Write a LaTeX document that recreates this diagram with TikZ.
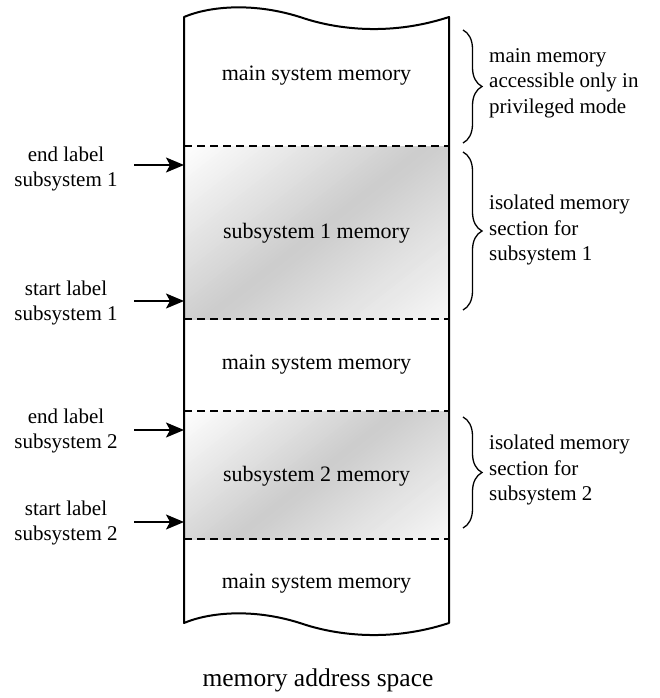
\documentclass[tikz,border=0pt]{standalone}
\usepackage{fontspec}
\setmainfont{Liberation Serif}
\usetikzlibrary{arrows.meta,decorations.pathreplacing}

\tikzset{
  sidetext/.style={font=\fontsize{21}{25.5}\selectfont, inner sep=0pt, align=center},
  notetext/.style={font=\fontsize{21}{25.5}\selectfont, inner sep=0pt, align=left, anchor=west},
  celltext/.style={font=\fontsize{22}{26}\selectfont, inner sep=0pt},
  divider/.style={line width=1.6pt, dash pattern=on 8pt off 5pt},
  pointer/.style={line width=1.6pt, -{Stealth[length=18pt,width=15pt,inset=4pt]}},
  bracket/.style={line width=1.3pt, decorate, decoration={brace, amplitude=19pt}},
}

% diagonal grey gradient: white at top-left, grey in the middle, pale at bottom-right
% #1 = top-left corner, #2 = bottom-right corner, #3 = width, #4 = height
\newcommand\graderegion[4]{%
  \begin{scope}
    \clip #1 rectangle #2;
    \pgfmathsetmacro\gradstep{(#3*cos(52)+#4*sin(52))/90}
    \begin{scope}[shift={#1}, rotate=-52]
      \foreach \i in {0,...,89} {
        \pgfmathsetmacro\gs{(\i+0.5)/90}
        \pgfmathsetmacro\gv{ifthenelse(\gs<0.5, 40*\gs, 20-34*(\gs-0.5))}
        \pgfmathsetmacro\ga{\gradstep*\i}
        \pgfmathsetmacro\gb{\ga+\gradstep+0.8}
        \fill[black!\gv] (\ga,-600) rectangle (\gb,900);
      }
    \end{scope}
  \end{scope}}

\begin{document}
\begin{tikzpicture}[x=1pt, y=-1pt]
\useasboundingbox (0,0) rectangle (660,698);

% shaded subsystem regions
\graderegion{(184,146)}{(449,319)}{265}{173}
\graderegion{(184,411)}{(449,539)}{265}{128}

% dividers between regions
\draw[divider] (184,146) -- (449,146);
\draw[divider] (184,319) -- (449,319);
\draw[divider] (184,411) -- (449,411);
\draw[divider] (184,539) -- (449,539);

% address-space column with torn (wavy) ends
\draw[line width=2pt, line join=round]
  (184,17) .. controls (210,6) and (255,2) .. (303,18)
           .. controls (330,27) and (385,38) .. (449,17)
  -- (449,623)
           .. controls (385,644) and (330,633) .. (303,624)
           .. controls (255,608) and (210,612) .. (184,623)
  -- cycle;

% region captions
\node[celltext] (m1) at (316.5,76) {main system memory};
\node[celltext] (s1) at (316.5,233) {subsystem 1 memory};
\node[celltext] (m2) at (316.5,365) {main system memory};
\node[celltext] (s2) at (316.5,476) {subsystem 2 memory};
\node[celltext] (m3) at (316.5,584) {main system memory};

% boundary labels
\node[sidetext] (e1) at (66,169) {end label\\subsystem 1};
\node[sidetext] (b1) at (66,303) {start label\\subsystem 1};
\node[sidetext] (e2) at (66,431) {end label\\subsystem 2};
\node[sidetext] (b2) at (66,523) {start label\\subsystem 2};

\coordinate (e1s) at (134,165); \coordinate (e1t) at (184,165);
\coordinate (b1s) at (134,301); \coordinate (b1t) at (184,301);
\coordinate (e2s) at (134,430); \coordinate (e2t) at (184,430);
\coordinate (b2s) at (134,522); \coordinate (b2t) at (184,522);
\draw[pointer] (e1s) -- (e1t);
\draw[pointer] (b1s) -- (b1t);
\draw[pointer] (e2s) -- (e2t);
\draw[pointer] (b2s) -- (b2t);

% braces with notes
\coordinate (k1a) at (463,30);  \coordinate (k1b) at (463,143);
\coordinate (k2a) at (463,152); \coordinate (k2b) at (463,310);
\coordinate (k3a) at (463,417); \coordinate (k3b) at (463,528);
\draw[bracket] (k1a) -- (k1b);
\draw[bracket] (k2a) -- (k2b);
\draw[bracket] (k3a) -- (k3b);

\node[notetext] (n1) at (489,83) {main memory\\accessible only in\\privileged mode};
\node[notetext] (n2) at (489,230) {isolated memory\\section for\\subsystem 1};
\node[notetext] (n3) at (489,470) {isolated memory\\section for\\subsystem 2};

% caption
\node[font=\fontsize{25.5}{30}\selectfont, inner sep=0pt] (cap) at (318,680) {memory address space};
\end{tikzpicture}
\end{document}
